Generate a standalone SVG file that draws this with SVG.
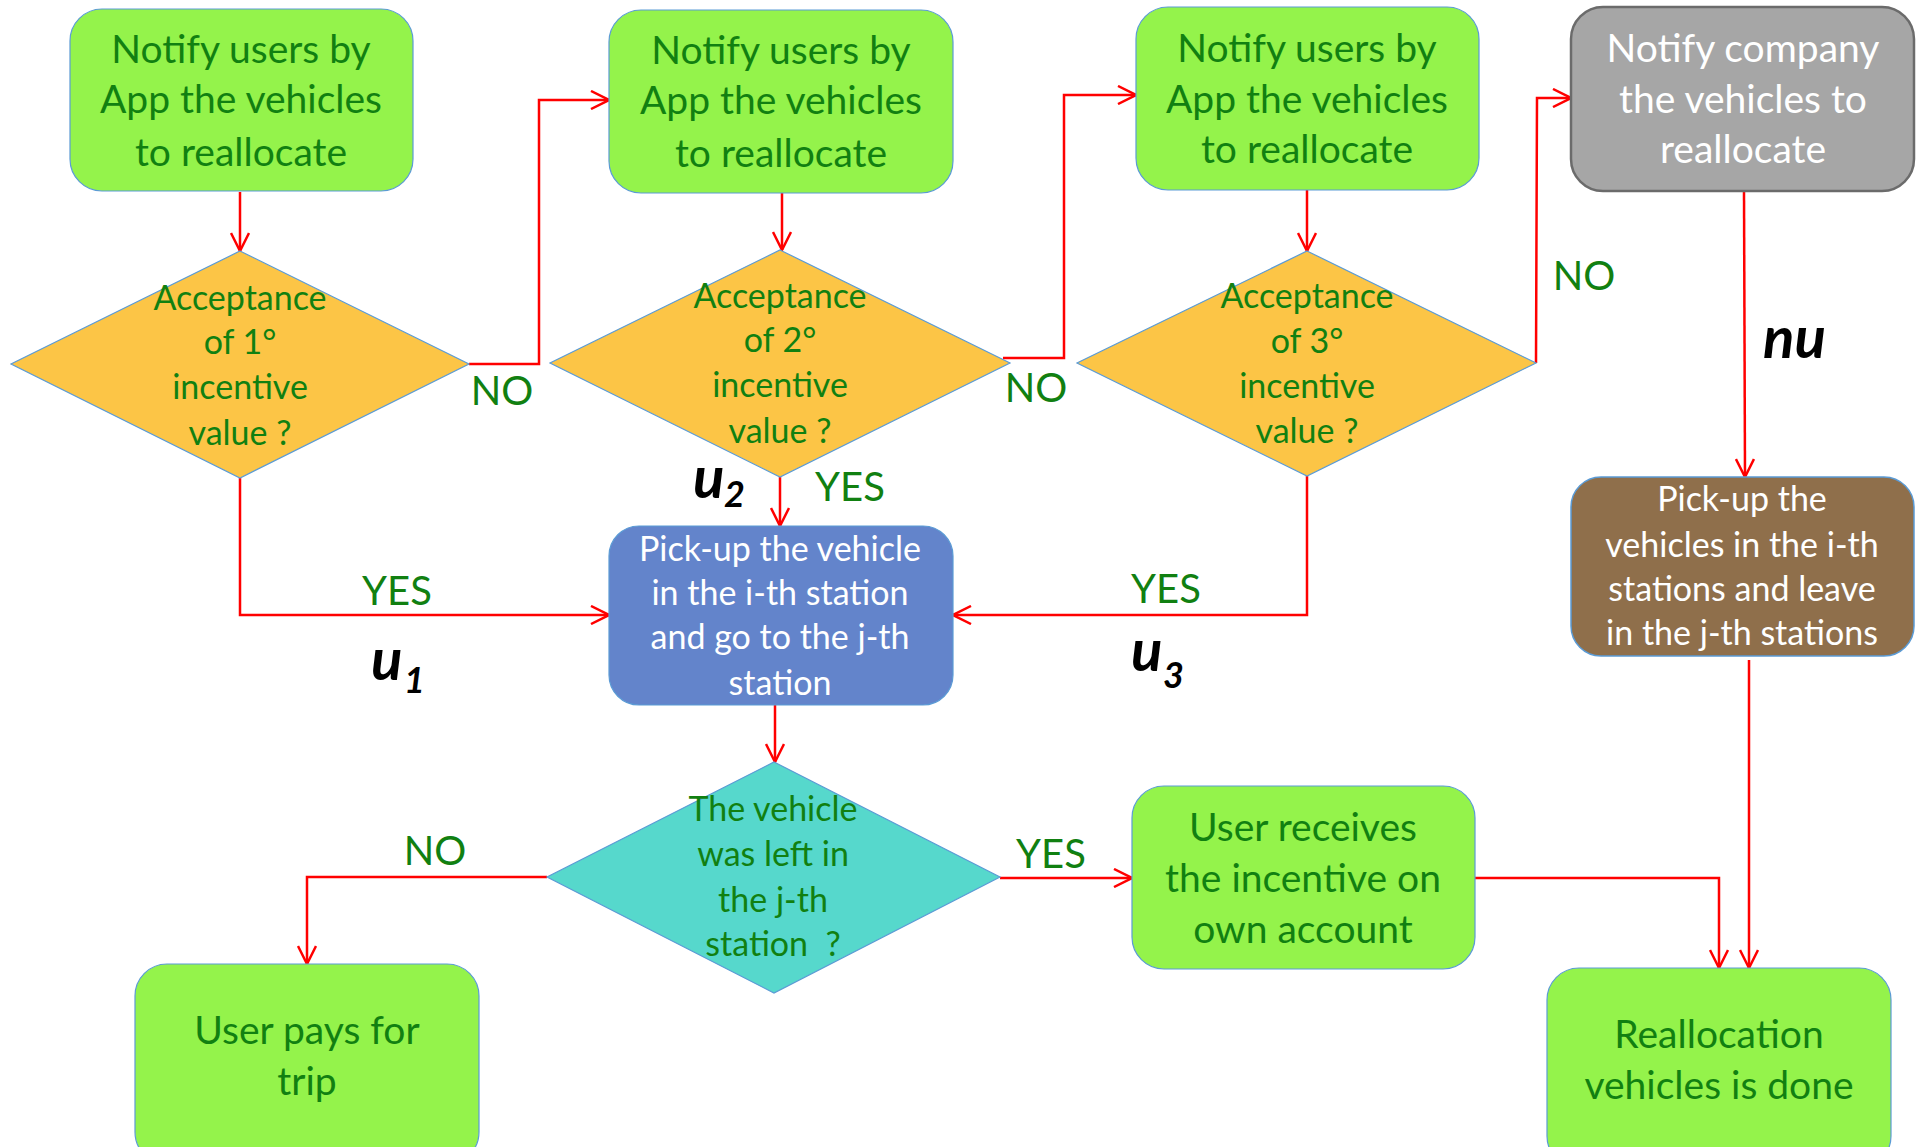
<svg xmlns="http://www.w3.org/2000/svg" width="1918" height="1147" viewBox="0 0 1918 1147">
<defs>
<marker id="arr" viewBox="0 0 20 20" refX="19" refY="10" markerWidth="20" markerHeight="20" markerUnits="userSpaceOnUse" orient="auto">
<path d="M1,1 L19,10 L1,19" fill="none" stroke="#ff0000" stroke-width="2.5"/>
</marker>
<style>
.box{fill:#94f34b;stroke:#5b9bd5;stroke-width:1.2}
.gray{fill:#a6a6a6;stroke:#6b6b6b;stroke-width:2.5}
.brown{fill:#8f6f4b;stroke:#5b9bd5;stroke-width:1.5}
.blue{fill:#6384cb;stroke:#5b9bd5;stroke-width:1.2}
.dia{fill:#fcc546;stroke:#5b9bd5;stroke-width:1.2}
.cyan{fill:#56d8cc;stroke:#5b9bd5;stroke-width:1.2}
text{font-family:Lato,"Liberation Sans",sans-serif;text-anchor:middle}
.g{fill:#118011}
.w{fill:#ffffff}
.t37{font-size:39px}
.t32{font-size:34px}
.t31{font-size:34px}
.lbl{font-size:40px;fill:#118011}
.u{font-size:58px;font-weight:bold;font-style:italic;fill:#000;text-anchor:start}
.sub{font-size:36px;font-weight:bold;font-style:italic;fill:#000;text-anchor:start}
.c{fill:none;stroke:#ff0000;stroke-width:2.5;marker-end:url(#arr)}
</style>
</defs>
<rect width="1918" height="1147" fill="#ffffff"/>

<g id="connectors">
<path class="c" d="M240,192 L240,251"/>
<path class="c" d="M469,364 L539,364 L539,100 L609,100"/>
<path class="c" d="M782,193 L782,250"/>
<path class="c" d="M1003,358 L1064,358 L1064,95 L1136,95"/>
<path class="c" d="M1307,190 L1307,251"/>
<path class="c" d="M1536,363 L1537,98 L1571,98"/>
<path class="c" d="M1744,191 L1745,477"/>
<path class="c" d="M240,478 L240,615 L609,615"/>
<path class="c" d="M780,477 L780,526"/>
<path class="c" d="M1307,476 L1307,615 L953,615"/>
<path class="c" d="M775,705 L775,762"/>
<path class="c" d="M547,877 L307,877 L307,964"/>
<path class="c" d="M1000,878 L1132,878"/>
<path class="c" d="M1475,878 L1719,878 L1719,968"/>
<path class="c" d="M1749,660 L1749,968"/>
</g>

<g id="n1">
<rect class="box" x="70" y="9" width="343" height="182" rx="32"/>
<text class="g t37" x="241" y="63">Notify users by</text>
<text class="g t37" x="241" y="113">App the vehicles</text>
<text class="g t37" x="241" y="166">to reallocate</text>
</g>
<g id="n2">
<rect class="box" x="609" y="10" width="344" height="183" rx="32"/>
<text class="g t37" x="781" y="64">Notify users by</text>
<text class="g t37" x="781" y="114">App the vehicles</text>
<text class="g t37" x="781" y="167">to reallocate</text>
</g>
<g id="n3">
<rect class="box" x="1136" y="7" width="343" height="183" rx="32"/>
<text class="g t37" x="1307" y="62">Notify users by</text>
<text class="g t37" x="1307" y="113">App the vehicles</text>
<text class="g t37" x="1307" y="163">to reallocate</text>
</g>
<g id="n4">
<rect class="gray" x="1571" y="7" width="343" height="184" rx="32"/>
<text class="w t37" x="1743" y="62">Notify company</text>
<text class="w t37" x="1743" y="113">the vehicles to</text>
<text class="w t37" x="1743" y="163">reallocate</text>
</g>

<g id="d1">
<polygon class="dia" points="240,251 469,364 240,478 11,364"/>
<text class="g t32" x="240" y="310">Acceptance</text>
<text class="g t32" x="240" y="354">of 1°</text>
<text class="g t32" x="240" y="399">incentive</text>
<text class="g t32" x="240" y="445">value ?</text>
</g>
<g id="d2">
<polygon class="dia" points="780,250 1010,363 780,477 550,363"/>
<text class="g t32" x="780" y="308">Acceptance</text>
<text class="g t32" x="780" y="352">of 2°</text>
<text class="g t32" x="780" y="397">incentive</text>
<text class="g t32" x="780" y="443">value ?</text>
</g>
<g id="d3">
<polygon class="dia" points="1307,251 1536,363 1307,476 1077,363"/>
<text class="g t32" x="1307" y="308">Acceptance</text>
<text class="g t32" x="1307" y="353">of 3°</text>
<text class="g t32" x="1307" y="398">incentive</text>
<text class="g t32" x="1307" y="443">value ?</text>
</g>

<g id="n5">
<rect class="blue" x="609" y="526" width="344" height="179" rx="30"/>
<text class="w t31" x="780" y="561">Pick-up the vehicle</text>
<text class="w t31" x="780" y="605">in the i-th station</text>
<text class="w t31" x="780" y="649">and go to the j-th</text>
<text class="w t31" x="780" y="695">station</text>
</g>
<g id="n6">
<rect class="brown" x="1571" y="477" width="343" height="179" rx="30"/>
<text class="w t31" x="1742" y="511">Pick-up the</text>
<text class="w t31" x="1742" y="557">vehicles in the i-th</text>
<text class="w t31" x="1742" y="601">stations and leave</text>
<text class="w t31" x="1742" y="645">in the j-th stations</text>
</g>

<g id="d4">
<polygon class="cyan" points="774,762 1000,877 774,993 547,877"/>
<text class="g t32" x="773" y="821">The vehicle</text>
<text class="g t32" x="773" y="866">was left in</text>
<text class="g t32" x="773" y="912">the j-th</text>
<text class="g t32" x="773" y="956" xml:space="preserve">station  ?</text>
</g>

<g id="n7">
<rect class="box" x="135" y="964" width="344" height="200" rx="32"/>
<text class="g t37" x="307" y="1044">User pays for</text>
<text class="g t37" x="307" y="1095">trip</text>
</g>
<g id="n8">
<rect class="box" x="1132" y="786" width="343" height="183" rx="32"/>
<text class="g t37" x="1303" y="841">User receives</text>
<text class="g t37" x="1303" y="892">the incentive on</text>
<text class="g t37" x="1303" y="943">own account</text>
</g>
<g id="n9">
<rect class="box" x="1547" y="968" width="344" height="200" rx="32"/>
<text class="g t37" x="1719" y="1048">Reallocation</text>
<text class="g t37" x="1719" y="1099">vehicles is done</text>
</g>

<g id="labels">
<text class="lbl" x="502" y="405">NO</text>
<text class="lbl" x="1036" y="402">NO</text>
<text class="lbl" x="1584" y="290">NO</text>
<text class="lbl" x="850" y="501">YES</text>
<text class="lbl" x="397" y="605">YES</text>
<text class="lbl" x="1166" y="603">YES</text>
<text class="lbl" x="435" y="865">NO</text>
<text class="lbl" x="1051" y="868">YES</text>
<text class="u" x="693" y="498">u</text><text class="sub" x="724" y="507">2</text>
<text class="u" x="371" y="680">u</text><text class="sub" x="404" y="693">1</text>
<text class="u" x="1131" y="671">u</text><text class="sub" x="1163" y="688">3</text>
<text class="u" x="1763" y="358">nu</text>
</g>
</svg>
